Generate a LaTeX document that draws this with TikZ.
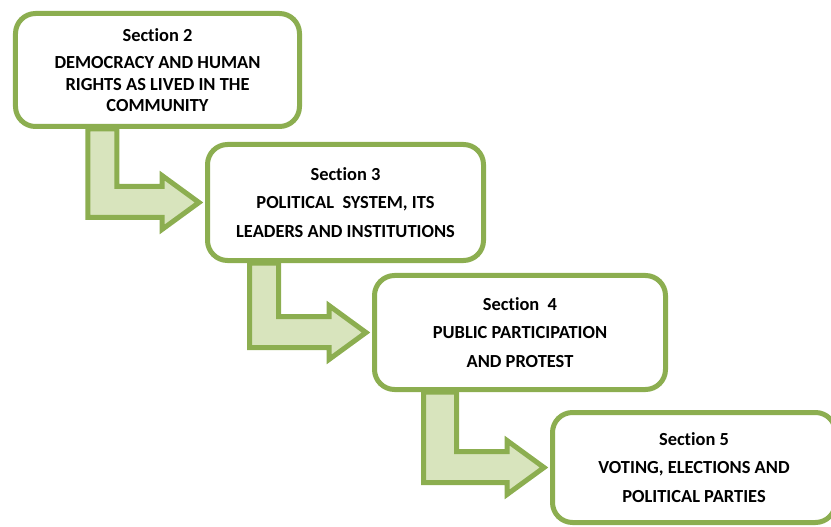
\documentclass[tikz,border=0pt]{standalone}
\usepackage{fontspec}
\setmainfont{Carlito}[Ligatures={NoCommon}]
\usetikzlibrary{calc}
\definecolor{gborder}{RGB}{140,174,80}
\definecolor{gfill}{RGB}{216,228,189}
\pgfdeclarelayer{bg}
\pgfsetlayers{bg,main}
\tikzset{
  secbox/.style={draw=gborder, line width=5bp, fill=white, rounded corners=20bp,
    align=center, inner sep=0pt,
    font=\bfseries\fontsize{18.5}{21.5}\selectfont},
  bentarrow/.style={draw=gborder, fill=gfill, line width=5bp, line join=miter}
}
\newcommand{\bentarr}[4]{%
  % #1 source node, #2 target node, #3 shaft left offset from source south west, #4 shaft width
  \coordinate (T) at ($(#2.west)+(-6,0)$);
  \coordinate (A) at ($(#1.south west)+(#3,0)$);
  \coordinate (B) at ($(A)+(#4,0)$);
  \coordinate (Sb) at ($(T)+(0,15)$);
  \coordinate (St) at ($(T)+(0,-16)$);
  \begin{pgfonlayer}{bg}
  \draw[bentarrow] (A) -- (A |- Sb) -- ($(T)+(-37,15)$) -- ($(T)+(-37,27)$) -- (T)
     -- ($(T)+(-37,-27)$) -- ($(T)+(-37,-16)$) -- (B |- St) -- (B) -- cycle;
  \end{pgfonlayer}
}
\begin{document}
\begin{tikzpicture}[x=1bp,y=-1bp]
\useasboundingbox (0,0) rectangle (831,527);
\clip (0,0) rectangle (831,527);
\node[secbox, minimum width=284bp, minimum height=113bp] (b1) at (157.5,70)
  {Section 2\\[6bp]DEMOCRACY AND HUMAN\\RIGHTS AS LIVED IN THE\\COMMUNITY};
\node[secbox, minimum width=276bp, minimum height=116bp] (b2) at (345.5,202.5)
  {Section 3\\[7bp]POLITICAL\ \ SYSTEM, ITS\\[7bp]LEADERS AND INSTITUTIONS};
\node[secbox, minimum width=291bp, minimum height=114bp] (b3) at (520,332.5)
  {Section\ \ 4\\[7bp]PUBLIC PARTICIPATION\\[7bp]AND PROTEST};
\node[secbox, minimum width=283bp, minimum height=110bp] (b4) at (694,467.5)
  {Section 5\\[7bp]VOTING, ELECTIONS AND\\[7bp]POLITICAL PARTIES};
\bentarr{b1}{b2}{75}{29}
\bentarr{b2}{b3}{44.5}{29}
\bentarr{b3}{b4}{51.5}{33}
\end{tikzpicture}
\end{document}
